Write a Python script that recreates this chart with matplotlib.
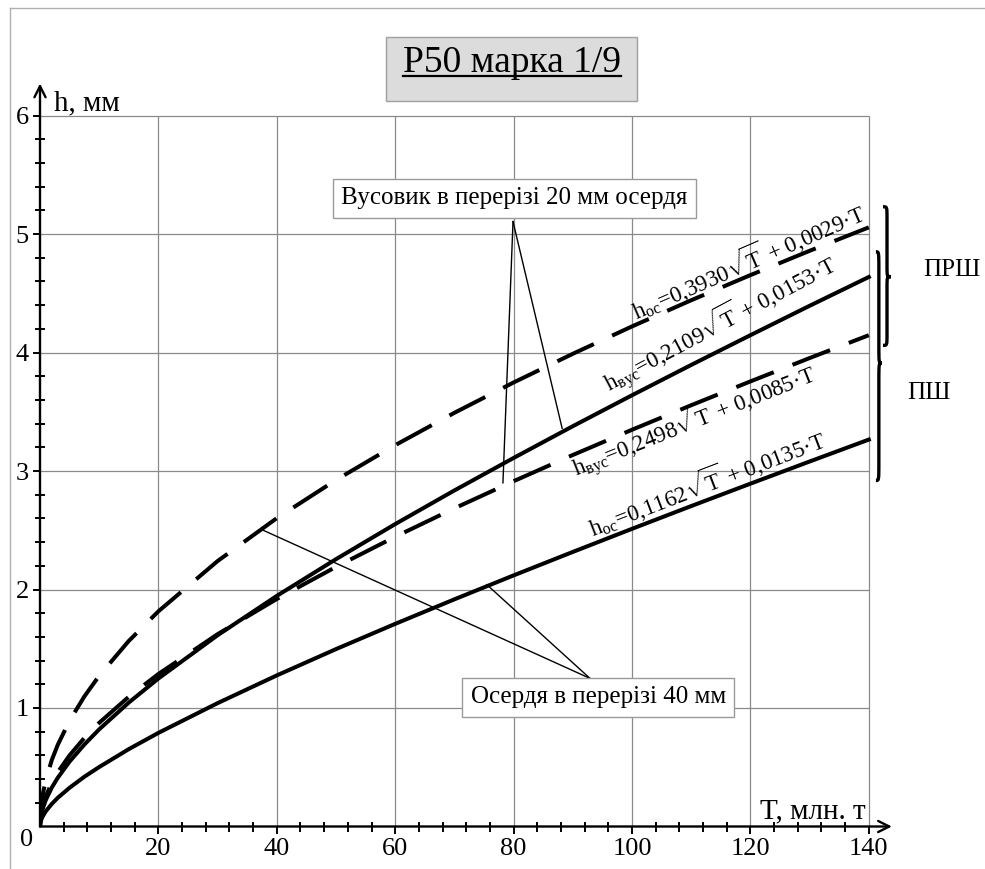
import numpy as np
import matplotlib.pyplot as plt
from matplotlib.patches import Rectangle, PathPatch
from matplotlib.path import Path
from matplotlib.lines import Line2D
from matplotlib.ticker import FixedLocator

plt.rcParams['font.family'] = ['Liberation Serif', 'DejaVu Serif']
plt.rcParams['mathtext.fontset'] = 'custom'
plt.rcParams['mathtext.rm'] = 'Liberation Serif'
plt.rcParams['mathtext.it'] = 'Liberation Serif:italic'

# значення (T, млн. т -> h, мм)
T = [0, 0.1, 0.25, 0.5, 1, 2, 3, 5, 7.5, 10, 15, 20, 30, 40, 50,
     60, 70, 80, 90, 100, 110, 120, 130, 140]
h_oc_prsh = [0, 0.125, 0.197, 0.279, 0.396, 0.562, 0.689, 0.893, 1.098, 1.272,
             1.566, 1.816, 2.240, 2.602, 2.924, 3.218, 3.491, 3.747, 3.989,
             4.220, 4.441, 4.653, 4.858, 5.056]
h_vus_prsh = [0, 0.068, 0.109, 0.157, 0.226, 0.329, 0.411, 0.548, 0.692, 0.820,
              1.046, 1.249, 1.614, 1.946, 2.256, 2.552, 2.836, 3.110, 3.378,
              3.639, 3.895, 4.146, 4.394, 4.637]
h_vus_psh = [0, 0.080, 0.127, 0.181, 0.258, 0.370, 0.458, 0.601, 0.748, 0.875,
             1.095, 1.287, 1.623, 1.920, 2.191, 2.445, 2.685, 2.914, 3.135,
             3.348, 3.555, 3.756, 3.953, 4.146]
h_oc_psh = [0, 0.038, 0.062, 0.089, 0.130, 0.191, 0.242, 0.327, 0.420, 0.502,
            0.653, 0.790, 1.041, 1.275, 1.497, 1.710, 1.917, 2.119, 2.317,
            2.512, 2.704, 2.893, 3.080, 3.265]

x_major = [20, 40, 60, 80, 100, 120, 140]
y_major = [1, 2, 3, 4, 5, 6]

eq_oc_prsh = r'h$_{\mathrm{ос}}$=0,3930$\sqrt{\mathrm{T}}$ + 0,0029·T'
eq_vus_prsh = r'h$_{\mathrm{вус}}$=0,2109$\sqrt{\mathrm{T}}$ + 0,0153·T'
eq_vus_psh = r'h$_{\mathrm{вус}}$=0,2498$\sqrt{\mathrm{T}}$ + 0,0085·T'
eq_oc_psh = r'h$_{\mathrm{ос}}$=0,1162$\sqrt{\mathrm{T}}$ + 0,0135·T'

fig = plt.figure(figsize=(9.85, 8.69), dpi=100)
ax = fig.add_axes([40 / 985, 42.5 / 869, 144.5 * 5.92 / 985, 6.3 * 118.5 / 869])
ax.set_xlim(0, 144.5)
ax.set_ylim(0, 6.3)
for s in ax.spines.values():
    s.set_visible(False)

# рамка навколо рисунка
fig.add_artist(Line2D([10 / 985, 10 / 985], [0, 1 - 8 / 869], color='#b0b0b0', lw=1))
fig.add_artist(Line2D([10 / 985, 1], [1 - 8 / 869, 1 - 8 / 869], color='#b0b0b0', lw=1))

# сітка
ax.vlines(x_major, 0, 6, color='#8a8a8a', lw=0.9, zorder=1)
ax.hlines(y_major, 0, 140, color='#8a8a8a', lw=0.9, zorder=1)

# осі зі стрілками
arrow = dict(arrowstyle='->', color='k', lw=1.7, mutation_scale=20, shrinkA=0, shrinkB=0)
ax.annotate('', xy=(143.9, 0), xytext=(0, 0), arrowprops=arrow, annotation_clip=False)
ax.annotate('', xy=(0, 6.27), xytext=(0, 0), arrowprops=arrow, annotation_clip=False)

ax.set_xticks(x_major)
ax.set_yticks(y_major)
ax.xaxis.set_minor_locator(FixedLocator([v for v in range(4, 140, 4) if v % 20]))
ax.yaxis.set_minor_locator(FixedLocator([round(v * 0.2, 1) for v in range(1, 30) if v % 5]))
ax.tick_params(which='major', direction='out', length=5, width=1.4, labelsize=19, pad=3)
ax.tick_params(which='minor', direction='inout', length=7, width=1.4)
ax.annotate('0', (0, 0), xytext=(-9.5, -10), textcoords='offset points',
            ha='center', va='center', fontsize=19)

ax.text(2.3, 6.04, 'h, мм', fontsize=21, ha='left', va='baseline')
ax.text(139.5, 0.07, 'T, млн. т', fontsize=21, ha='right', va='baseline')

# криві
lw = 2.9
ax.plot(T, h_oc_prsh, color='k', lw=lw, dashes=(10, 5), zorder=3)
ax.plot(T, h_vus_prsh, color='k', lw=lw, zorder=3)
ax.plot(T, h_vus_psh, color='k', lw=lw, dashes=(10, 5), zorder=3)
ax.plot(T, h_oc_psh, color='k', lw=lw, zorder=3)

# рівняння вздовж кривих
eq_kw = dict(fontsize=16.5, ha='left', va='baseline', rotation_mode='anchor', zorder=4)
ax.text(100.8, 4.27, eq_oc_prsh, rotation=23.5, **eq_kw)
ax.text(96.3, 3.66, eq_vus_prsh, rotation=28, **eq_kw)
ax.text(90.7, 2.95, eq_vus_psh, rotation=21.7, **eq_kw)
ax.text(93.4, 2.44, eq_oc_psh, rotation=21, **eq_kw)

# виноски
box = dict(boxstyle='square,pad=0.33', fc='white', ec='#9a9a9a', lw=1)
ax.plot([79.9, 78.2], [5.105, 2.90], color='k', lw=1, zorder=2)
ax.plot([79.9, 88.2], [5.105, 3.36], color='k', lw=1, zorder=2)
ax.text(80.1, 5.30, 'Вусовик в перерізі 20 мм осердя', fontsize=18,
        ha='center', va='center', bbox=box, zorder=5)
ax.plot([92.9, 37.7], [1.25, 2.50], color='k', lw=1, zorder=2)
ax.plot([92.9, 75.5], [1.25, 2.04], color='k', lw=1, zorder=2)
ax.text(94.3, 1.09, 'Осердя в перерізі 40 мм', fontsize=18,
        ha='center', va='center', bbox=box, zorder=5)


def brace(x0, ytop, ybot, ytip, w):
    xm = x0 + w * 0.5
    c = 0.08 * (ytop - ybot)
    verts = [(x0, ytop), (xm, ytop), (xm, ytop), (xm, ytop - c),
             (xm, ytip + c),
             (xm, ytip), (xm, ytip), (x0 + w, ytip),
             (xm, ytip), (xm, ytip), (xm, ytip - c),
             (xm, ybot + c),
             (xm, ybot), (xm, ybot), (x0, ybot)]
    codes = [Path.MOVETO, Path.CURVE4, Path.CURVE4, Path.CURVE4,
             Path.LINETO,
             Path.CURVE4, Path.CURVE4, Path.CURVE4,
             Path.CURVE4, Path.CURVE4, Path.CURVE4,
             Path.LINETO,
             Path.CURVE4, Path.CURVE4, Path.CURVE4]
    ax.add_patch(PathPatch(Path(verts, codes), fc='none', ec='k', lw=2.4, clip_on=False))


brace(142.4, 5.23, 4.06, 4.64, 1.35)
brace(141.2, 4.85, 2.92, 3.91, 1.0)
fig.text(952 / 985, 1 - 270 / 869, 'ПРШ', fontsize=18, ha='center', va='center')
fig.text(929 / 985, 1 - 393 / 869, 'ПШ', fontsize=18, ha='center', va='center')

# заголовок
fig.add_artist(Rectangle((386 / 985, 1 - 101 / 869), 251 / 985, 64 / 869,
                         transform=fig.transFigure, fc='#dcdcdc', ec='#a0a0a0', lw=1))
fig.text(512 / 985, 1 - 72 / 869, 'Р50 марка 1/9', fontsize=27, ha='center', va='baseline')
fig.add_artist(Line2D([403 / 985, 621 / 985], [1 - 76 / 869, 1 - 76 / 869], color='k', lw=1.6))

fig.savefig('out.png', dpi=100)
